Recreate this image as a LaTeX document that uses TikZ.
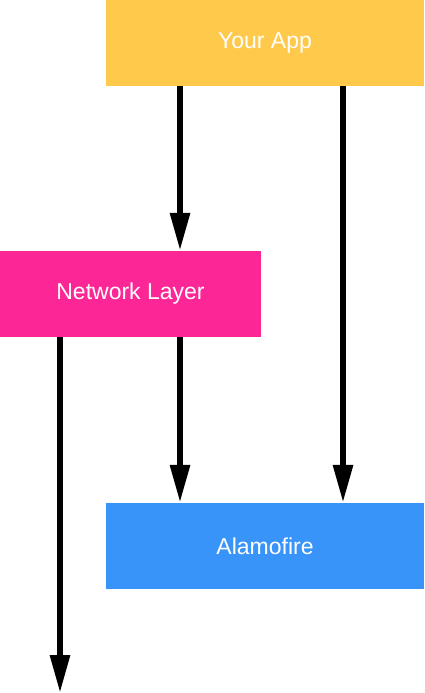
\documentclass[tikz,border=0pt]{standalone}
\usepackage{fontspec}
\setmainfont{Liberation Sans}
\usetikzlibrary{arrows.meta,calc}
\definecolor{AppYellow}{HTML}{FFC94B}
\definecolor{NetPink}{HTML}{FC2697}
\definecolor{AlamoBlue}{HTML}{3894F8}

\begin{document}
\begin{tikzpicture}[x=1pt, y=-1pt,
    layer/.style={minimum height=86pt, inner sep=0pt, text=white, font=\fontsize{23}{27}\selectfont},
    flow/.style={line width=6pt, -{Triangle[length=38pt,width=19pt]}}]
        \useasboundingbox (0,0) rectangle (424,693);
        \node[layer, fill=AppYellow, minimum width=318pt] (app) at (265,43) {Your App};
        \node[layer, fill=NetPink, minimum width=261pt] (net) at (130.5,294) {Network Layer};
        \node[layer, fill=AlamoBlue, minimum width=318pt] (alamo) at (265,546) {Alamofire};
        \coordinate (mid) at (180,0);
        \coordinate (right) at (343,0);
        \coordinate (out) at (60,693);

        \draw[flow] (app.south -| mid) -- (net.north -| mid);
        \draw[flow] (app.south -| right) -- (alamo.north -| right);
        \draw[flow] (net.south -| mid) -- (alamo.north -| mid);
        \draw[flow] (net.south -| out) -- (out);
        \end{tikzpicture}
\end{document}
